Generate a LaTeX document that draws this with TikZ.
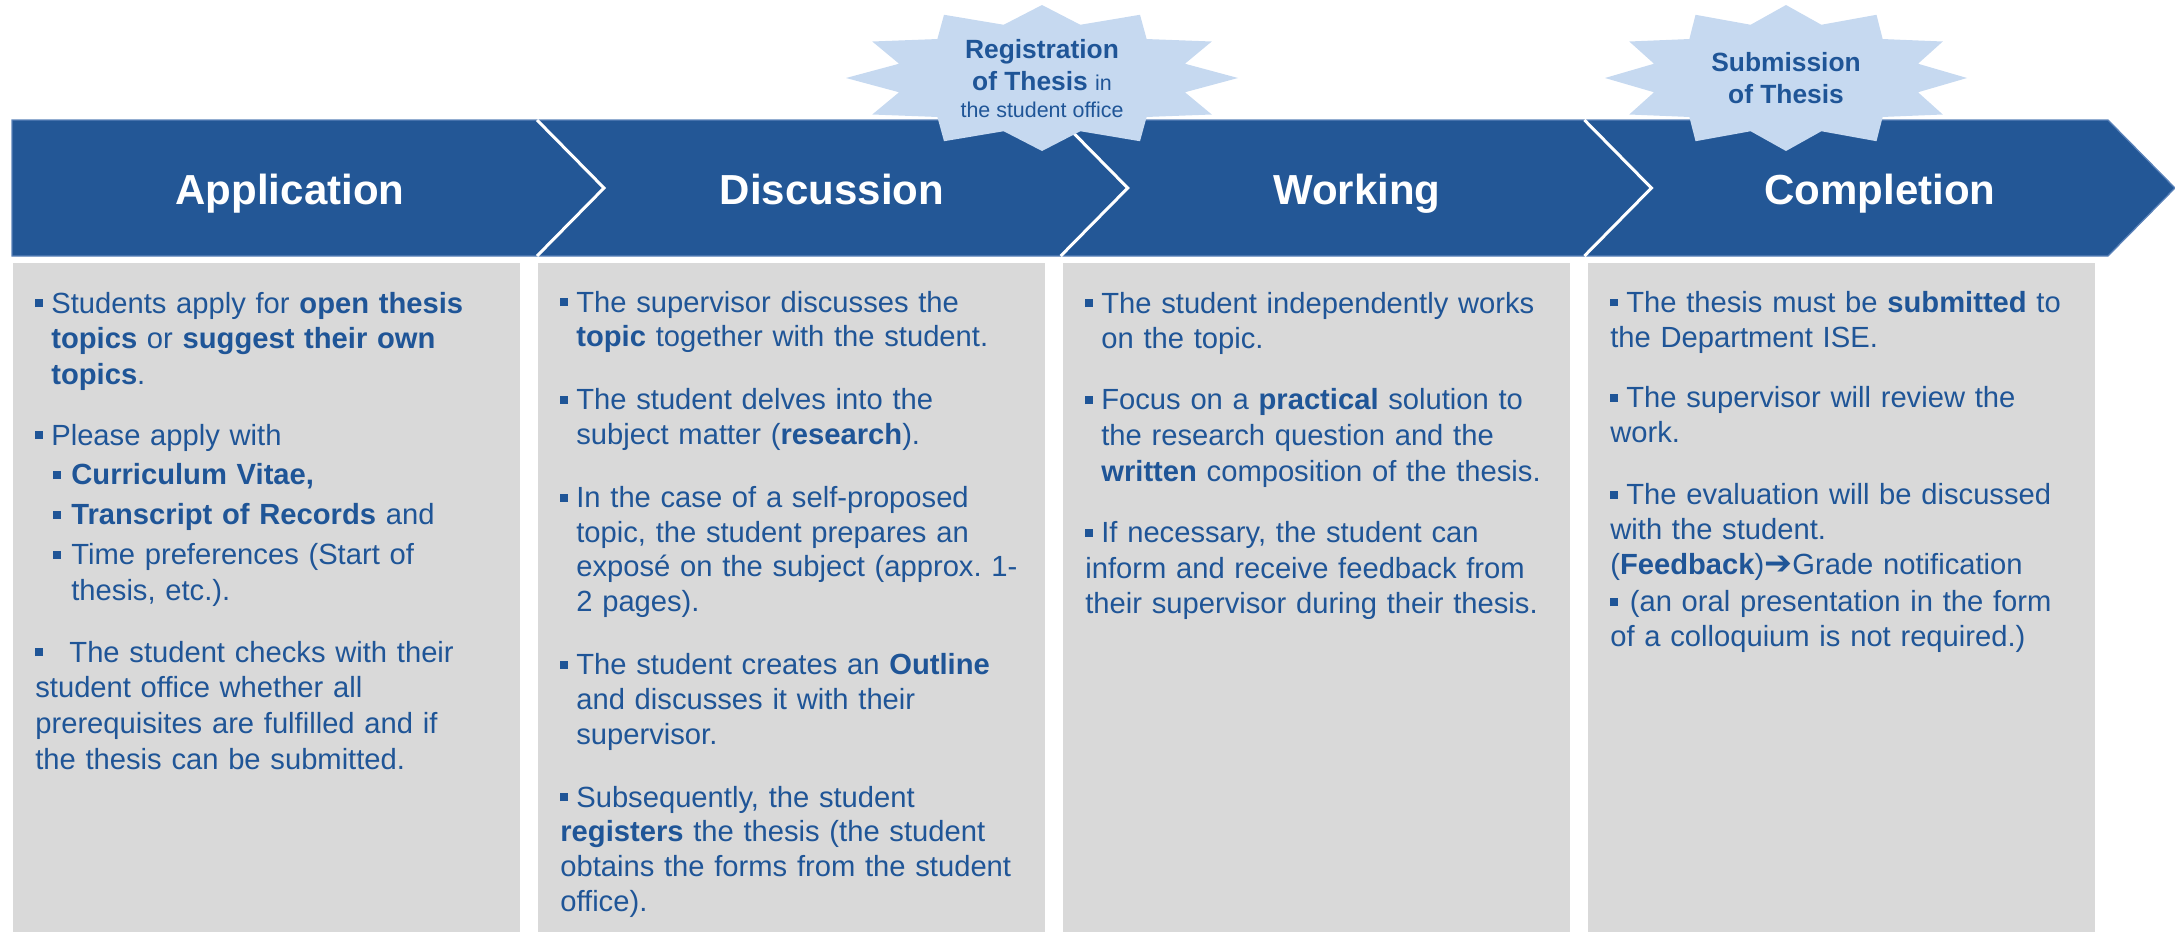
\documentclass[tikz,border=0pt]{standalone}
\usepackage{fontspec}
\setmainfont{Liberation Sans}
\newfontfamily\symfont{DejaVu Sans}
\usepackage{xcolor}
\usetikzlibrary{calc}

\definecolor{bannerblue}{RGB}{35,87,150}
\definecolor{banneredge}{RGB}{90,130,185}
\definecolor{textblue}{RGB}{31,85,151}
\definecolor{burstfill}{RGB}{198,217,240}
\definecolor{panelgray}{RGB}{217,217,217}

\frenchspacing

% square bullet and the bullet paragraphs
\newcommand{\sqbul}{\rule[0.2em]{0.26em}{0.27em}}
\newcommand{\pitem}[1][0pt]{\par\vspace{#1}\hangindent=9.1pt\hangafter=1\noindent\strut\makebox[9.1pt][l]{\sqbul}\ignorespaces}
\newcommand{\sitem}[1][0pt]{\par\vspace{#1}\hangindent=20.5pt\hangafter=1\noindent\strut\hspace*{10.2pt}\makebox[10.3pt][l]{\sqbul}\ignorespaces}
\newcommand{\witem}[1][0pt]{\par\vspace{#1}\hangindent=19.4pt\hangafter=1\noindent\strut\makebox[19.4pt][l]{\sqbul}\ignorespaces}
\newcommand{\fitem}[1][0pt]{\par\vspace{#1}\noindent\strut\makebox[9.1pt][l]{\sqbul}\ignorespaces}
\newcommand{\burstplain}[1]{{\mdseries\fontsize{12.2}{14}\selectfont #1}}

\begin{document}
\begin{tikzpicture}[x=0.2mm, y=-0.2mm,
    phase/.style={anchor=base, text=white, font=\fontsize{23.9}{28}\selectfont\bfseries},
    panel/.style={fill=panelgray, minimum width=101.4mm, minimum height=133.8mm,
                  inner sep=0pt, outer sep=0pt, anchor=north west},
    bodytext/.style={anchor=north west, inner sep=0pt, text width=110mm, align=left,
                     text=textblue, font=\fontsize{16.6}{#1}\selectfont},
    bodytext/.default=20.3pt,
    burst/.style={fill=burstfill},
    burstlabel/.style={align=center, inner sep=0pt, text=textblue,
                       font=\fontsize{15}{17.9}\selectfont\bfseries},
    divider/.style={white, line width=0.6mm},
]
\useasboundingbox (0,0) rectangle (2175,932);

% Phase banner
\fill[bannerblue, draw=banneredge, line width=0.25mm]
    (12,120) -- (2108,120) -- (2175,188) -- (2108,256) -- (12,256) -- cycle;
\foreach \x in {537, 1060.7, 1584.4} {
    \draw[divider] (\x,120) -- ++(67,68) -- ++(-67,68);
}

% Phase names
\node[phase] (app)  at (290,204)  {Application};
\node[phase] (disc) at (832,204)  {Discussion};
\node[phase] (work) at (1357,204) {Working};
\node[phase] (comp) at (1880,204) {Completion};

% Grey panels below the phases
\foreach \i/\nm in {0/app, 1/disc, 2/work, 3/comp} {
    \node[panel] (\nm-panel) at ({13+525*\i},263) {};
}

% Milestone bursts
\foreach \cx/\rx in {1042/196, 1786/181} {
    \fill[burst] plot[samples at={0,15,...,345}, variable=\a]
        ({\cx+\rx*cos(\a)*(1-0.245*mod(\a,30)/15)}, {78+73*sin(\a)*(1-0.245*mod(\a,30)/15)}) -- cycle;
}
\node[burstlabel] (regthesis) at (1042,79)
    {Registration\\of Thesis \burstplain{in}\\[-2.2pt]\burstplain{the student office}};
\node[burstlabel] (subthesis) at (1786,78) {Submission\\of Thesis};

% Application
\node[bodytext] (app-text) at ($(app-panel.north west)+(22,14)$) {%
\pitem Students apply for \textbf{open thesis}\newline \textbf{topics} or \textbf{suggest their own}\newline \textbf{topics}.
\pitem[14.2pt]Please apply with
\sitem[2.4pt]\textbf{Curriculum Vitae,}
\sitem[2.4pt]\textbf{Transcript of Records} and
\sitem[2.4pt]Time preferences (Start of\newline thesis, etc.).
\witem[14.8pt]The student checks with their\newline student office whether all\newline prerequisites are fulfilled and if\newline the thesis can be submitted.};

% Discussion
\node[bodytext=19.75pt] (disc-text) at ($(disc-panel.north west)+(22,14)$) {%
\pitem The supervisor discusses the\newline \textbf{topic} together with the student.
\pitem[16.1pt]The student delves into the\newline subject matter (\textbf{research}).
\pitem[16.1pt]In the case of a self-proposed\newline topic, the student prepares an\newline exposé on the subject (approx. 1-\newline 2 pages).
\pitem[16.1pt]The student creates an \textbf{Outline}\newline and discusses it with their\newline supervisor.
\pitem[16.1pt]Subsequently, the student\newline \textbf{registers} the thesis (the student\newline obtains the forms from the student\newline office).};

% Working
\node[bodytext] (work-text) at ($(work-panel.north west)+(22,14)$) {%
\pitem The student independently works\newline on the topic.
\pitem[14.5pt]Focus on a \textbf{practical} solution to\newline the research question and the\newline \textbf{written} composition of the thesis.
\pitem[14.5pt]If necessary, the student can\newline inform and receive feedback from\newline their supervisor during their thesis.};

% Completion
\node[bodytext=19.9pt] (comp-text) at ($(comp-panel.north west)+(22,14)$) {%
\fitem The thesis must be \textbf{submitted} to\newline the Department ISE.
\fitem[14.4pt]The supervisor will review the\newline work.
\fitem[15.5pt]The evaluation will be discussed\newline with the student.\newline (\textbf{Feedback}){\symfont\bfseries\fontsize{19}{19}\selectfont ➔}Grade notification
\fitem[1.3pt]\hspace{2pt}(an oral presentation in the form\newline of a colloquium is not required.)};

\end{tikzpicture}
\end{document}
